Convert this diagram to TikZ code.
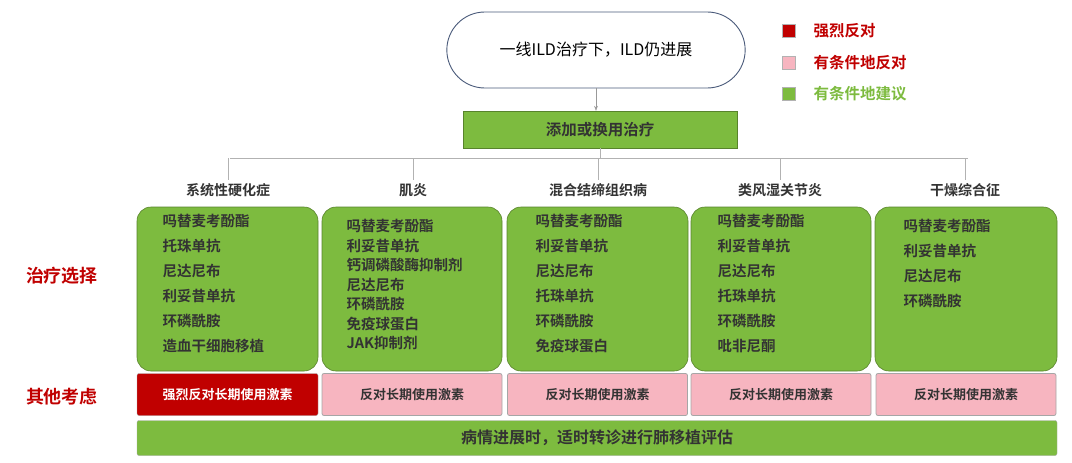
\documentclass[tikz,border=0pt]{standalone}
\usepackage{fontspec}
\setmainfont{Noto Sans CJK SC}
\newfontfamily\cjkb{Noto Sans CJK SC Bold}
\usetikzlibrary{shapes.misc,arrows.meta}
\definecolor{gr}{HTML}{7DBB3F}
\definecolor{dr}{HTML}{C00000}
\definecolor{pk}{HTML}{F7B5C0}
\definecolor{tx}{HTML}{333333}
\definecolor{bl}{HTML}{4A5A7A}
\begin{document}
\begin{tikzpicture}[x=1pt,y=-1pt,
  gbox/.style={draw=gr!70!black,fill=gr,rounded corners=14pt,line width=0.6pt},
  pbox/.style={draw=gray!70,fill=pk,rounded corners=2pt,line width=0.8pt},
  lst/.style={anchor=north west,align=left,text=tx},
  hdr/.style={font=\cjkb\fontsize{14}{16}\selectfont,text=tx},
  ln/.style={draw=gray!60,line width=0.6pt}]
\useasboundingbox (0,0) rectangle (1072,463);
\node[rounded rectangle,draw=bl,line width=0.9pt,minimum width=305pt,minimum height=76pt,font=\fontsize{16}{18}\selectfont] (top) at (596,50) {一线ILD治疗下，ILD仍进展};
\node[fill=gr,draw=gr!70!black,minimum width=274pt,minimum height=37pt,font=\cjkb\fontsize{15.5}{17}\selectfont,text=tx] (add) at (600,129.5) {添加或换用治疗};
\draw[-{Stealth[length=5pt]},draw=gray!80] (top.south) -- (add.north -| top.south);
\coordinate (hub) at (600,158);
\draw[ln] (add.south) -- (hub);
\draw[ln] (230,158) -- (968,158);
\foreach \x/\n/\t in {228/h1/系统性硬化症,413/h2/肌炎,598/h3/混合结缔组织病,780/h4/类风湿关节炎,965/h5/干燥综合征}{
  \node[hdr] (\n) at (\x,190) {\t};
  \draw[ln] (\x,158) -- (\n.north);
}
\foreach \a/\b/\n in {137/318/g1,322/502/g2,507/688/g3,691/871/g4,875/1057/g5}{
  \path[gbox] (\a,207) rectangle (\b,371);
  \coordinate (\n) at (\a,207);
}
\node[lst,font=\cjkb\fontsize{14.5}{25}\selectfont] at (159,211) {吗替麦考酚酯\\托珠单抗\\尼达尼布\\利妥昔单抗\\环磷酰胺\\造血干细胞移植};
\node[lst,font=\cjkb\fontsize{14.5}{19.5}\selectfont] at (343,216) {吗替麦考酚酯\\利妥昔单抗\\钙调磷酸酶抑制剂\\尼达尼布\\环磷酰胺\\免疫球蛋白\\JAK抑制剂};
\node[lst,font=\cjkb\fontsize{14.5}{25}\selectfont] at (532,211) {吗替麦考酚酯\\利妥昔单抗\\尼达尼布\\托珠单抗\\环磷酰胺\\免疫球蛋白};
\node[lst,font=\cjkb\fontsize{14.5}{25}\selectfont] at (714,211) {吗替麦考酚酯\\利妥昔单抗\\尼达尼布\\托珠单抗\\环磷酰胺\\吡非尼酮};
\node[lst,font=\cjkb\fontsize{14.5}{25}\selectfont] at (900,216) {吗替麦考酚酯\\利妥昔单抗\\尼达尼布\\环磷酰胺};
\node[draw=gray!70,fill=dr,rounded corners=2pt,minimum width=181pt,minimum height=42pt,text=white,font=\cjkb\fontsize{13}{15}\selectfont] (o1) at (227.5,394.5) {强烈反对长期使用激素};
\foreach \c/\n in {412/o2,597.5/o3,781/o4,966/o5}{
  \node[pbox,minimum width=180pt,minimum height=42pt,font=\cjkb\fontsize{13}{15}\selectfont,text=tx] (\n) at (\c,394.5) {反对长期使用激素};
}
\node[draw=gray!70,fill=gr,rounded corners=2pt,minimum width=920pt,minimum height=35pt,font=\cjkb\fontsize{16}{18}\selectfont,text=tx] (bot) at (597,438) {病情进展时，适时转诊进行肺移植评估};
\node[text=dr,font=\cjkb\fontsize{18}{20}\selectfont] (l1) at (62,276) {治疗选择};
\node[text=dr,font=\cjkb\fontsize{18}{20}\selectfont] (l2) at (62,397) {其他考虑};
\foreach \y/\c/\t/\tc in {31/dr/强烈反对/dr,63/pk/有条件地反对/dr,94/gr/有条件地建议/gr}{
  \node[fill=\c,draw=gray!60,minimum size=13pt,inner sep=0pt] (k\y) at (789,\y) {};
  \node[anchor=west,text=\tc,font=\cjkb\fontsize{15.5}{17}\selectfont] at (810,\y) {\t};
}
\end{tikzpicture}
\end{document}
